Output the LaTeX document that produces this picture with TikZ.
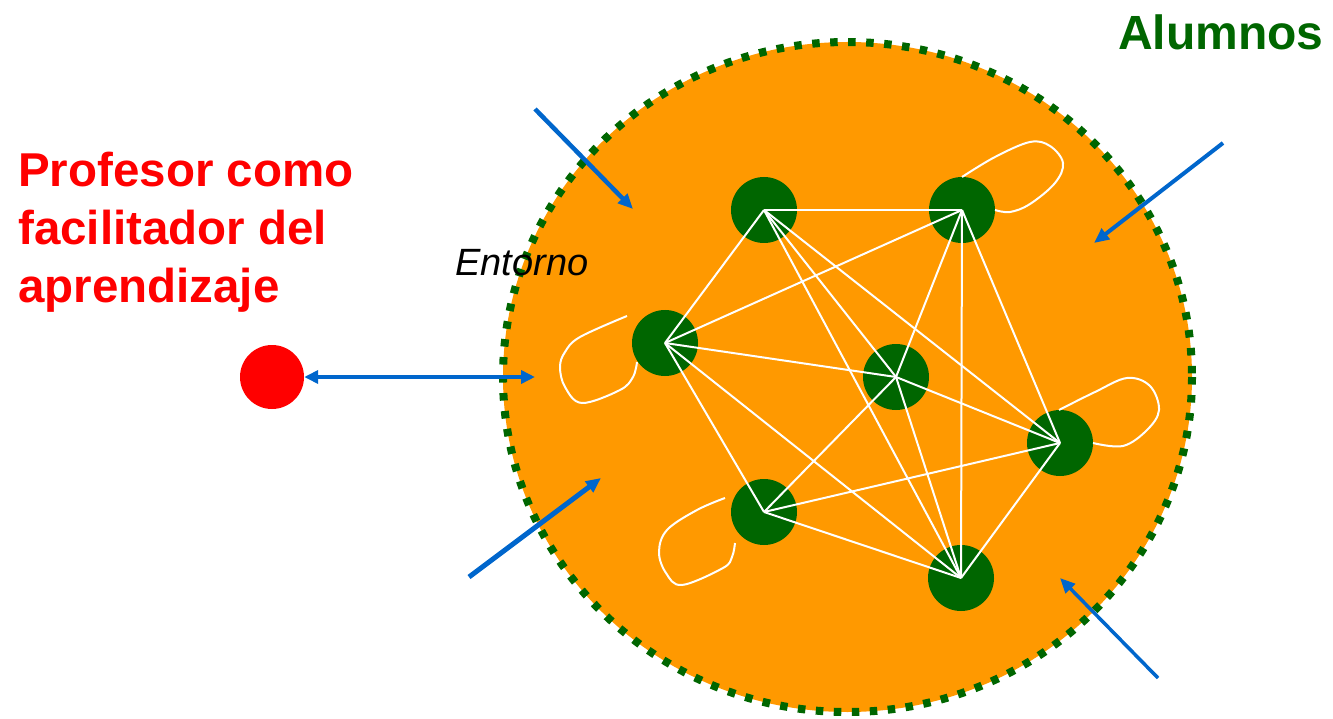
\documentclass[tikz,border=0pt]{standalone}
\usepackage{fontspec}
\setmainfont{Liberation Sans}
\usetikzlibrary{arrows.meta}
\definecolor{verde}{RGB}{0,102,0}
\definecolor{naranja}{RGB}{255,153,0}
\definecolor{azul}{RGB}{0,102,204}
\begin{document}
\begin{tikzpicture}[x=1pt,y=-1pt,
	    alumno/.style={circle,fill=verde,minimum size=66pt,inner sep=0pt},
	    enlace/.style={white,line width=2pt},
	    bucle/.style={white,line width=2pt},
	    flecha/.style={azul,line width=4.5pt,-{Triangle[length=15pt,width=13pt]}},
	    rotulo/.style={anchor=base west,inner sep=0pt}]
	    \useasboundingbox (0,0) rectangle (1333,719);
	    % entorno
	    \fill[naranja] (847.5,377) ellipse (344.5 and 335);
	    \draw[verde,line width=8pt,dash pattern=on 7.5pt off 10.5pt] (847.5,377) ellipse (344.5 and 335);
	    % alumnos
	    \node[alumno] (A) at (764,210) {};
	    \node[alumno] (B) at (962,210) {};
	    \node[alumno] (C) at (665,343) {};
	    \node[alumno] (D) at (896,377) {};
	    \node[alumno] (E) at (1060,443) {};
	    \node[alumno] (F) at (764,512) {};
	    \node[alumno] (G) at (961,578) {};
	    \foreach \a/\b in {A/B,A/C,A/D,A/E,A/G,B/C,B/D,B/E,B/G,C/D,C/F,C/G,D/E,D/F,D/G,E/F,E/G,F/G}
	        \draw[enlace] (\a.center) -- (\b.center);
	    % bucles
	    \draw[bucle] plot[smooth,tension=0.6] coordinates {(962,177) (995,157) (1030,142) (1050,146) (1063,163) (1055,183) (1030,204) (1010,212) (995,210)};
	    \draw[bucle] plot[smooth,tension=0.6] coordinates {(627,316) (580,337) (565,352) (560,367) (565,387) (582,403) (620,390) (633,377) (637,362)};
	    \draw[bucle] plot[smooth,tension=0.6] coordinates {(1059,410) (1095,392) (1127,378) (1150,386) (1159,410) (1147,430) (1123,446) (1093,443)};
	    \draw[bucle] plot[smooth,tension=0.6] coordinates {(725,498) (697,510) (667,530) (659,552) (666,573) (682,585) (723,568) (732,557) (735,543)};
	    % profesor
	    \node[circle,fill=red,minimum size=64pt,inner sep=0pt] (prof) at (272,377) {};
	    \coordinate (ent) at (535,377);
	    \draw[azul,line width=4pt,{Triangle[length=14pt,width=13pt]}-{Triangle[length=14pt,width=13pt]}] (prof) -- (ent);
	    % flechas del entorno
	    \coordinate (f1a) at (535,109);  \coordinate (f1b) at (633,209);
	    \coordinate (f2a) at (1223,143); \coordinate (f2b) at (1094,243);
	    \coordinate (f3a) at (469,577);  \coordinate (f3b) at (601,478);
	    \coordinate (f4a) at (1158,678); \coordinate (f4b) at (1060,578);
	    \draw[flecha] (f1a) -- (f1b);
	    \draw[flecha,line width=4pt] (f2a) -- (f2b);
	    \draw[flecha,line width=5pt] (f3a) -- (f3b);
	    \draw[flecha,line width=3.5pt] (f4a) -- (f4b);
	    % textos
	    \node[rotulo,text=red,font=\fontsize{47.5}{56}\selectfont\bfseries] (prof1) at (18,186.5) {Profesor como};
	    \node[rotulo,text=red,font=\fontsize{47.5}{56}\selectfont\bfseries] (prof2) at (18,244.5) {facilitador del};
	    \node[rotulo,text=red,font=\fontsize{47.5}{56}\selectfont\bfseries] (prof3) at (18,302.5) {aprendizaje};
	    \node[rotulo,text=verde,font=\fontsize{48}{56}\selectfont\bfseries] (alum) at (1118,50) {Alumnos};
	    \node[rotulo,font=\fontsize{38}{44}\selectfont\itshape] (entorno) at (455,276) {Entorno};
	\end{tikzpicture}
\end{document}
